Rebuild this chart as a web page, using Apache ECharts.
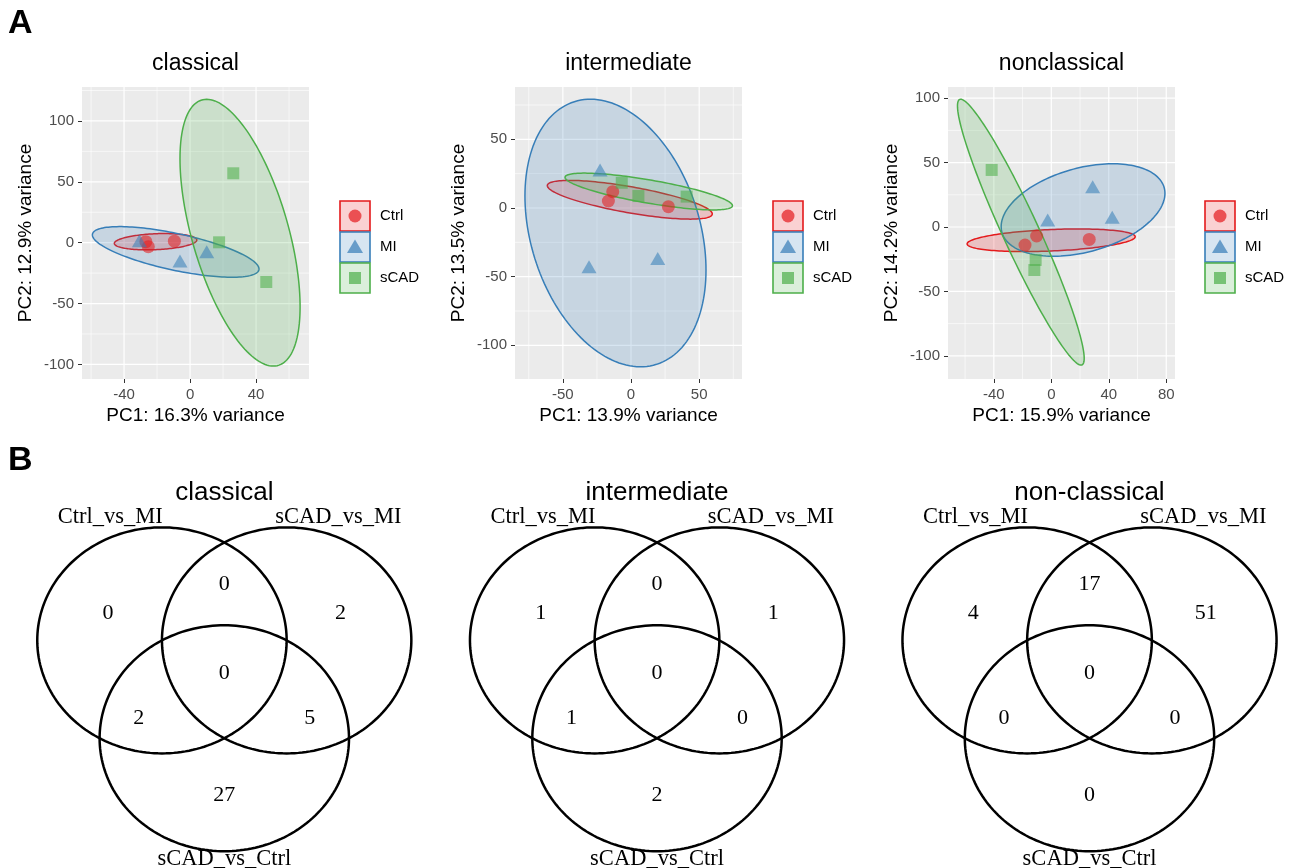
<!DOCTYPE html>
<html>
<head>
<meta charset="utf-8">
<script src="https://cdn.jsdelivr.net/npm/echarts@6.0.0/dist/echarts.min.js"></script>
<style>
html, body { margin: 0; padding: 0; background: #ffffff; }
#chart { width: 1301px; height: 868px; }
</style>
</head>
<body>
<div id="chart"></div>
<script>
// ---------------- data ----------------
const groups = ['Ctrl', 'MI', 'sCAD'];
const pcaTitles = ['classical', 'intermediate', 'nonclassical'];
const pc1Titles = ['PC1: 16.3% variance', 'PC1: 13.9% variance', 'PC1: 15.9% variance'];
const pc2Titles = ['PC2: 12.9% variance', 'PC2: 13.5% variance', 'PC2: 14.2% variance'];

// PCA scores [PC1, PC2]
const classicalCtrl = [[-26.8, 0.8], [-25.3, -3.3], [-9.5, 1.2]];
const classicalMI = [[-30.7, 1.6], [-6.1, -15.0], [10.1, -7.4]];
const classicalSCAD = [[17.6, 0.3], [26.2, 57.0], [46.2, -32.3]];
const intermediateCtrl = [[-13.4, 11.9], [-16.6, 5.1], [27.4, 1.0]];
const intermediateMI = [[-22.7, 27.7], [-30.8, -42.7], [19.6, -36.7]];
const intermediateSCAD = [[-6.8, 18.4], [5.4, 8.7], [40.8, 8.3]];
const nonclassicalCtrl = [[26.4, -9.6], [-10.2, -7.0], [-18.3, -14.0]];
const nonclassicalMI = [[28.8, 31.3], [-2.5, 5.4], [42.4, 7.5]];
const nonclassicalSCAD = [[-41.5, 44.3], [-10.9, -25.6], [-11.8, -33.4]];

// 95% data ellipses per group: [centerPC1, centerPC2, halfWidthPC1, halfHeightPC2, PC2 offset at rightmost point]
const classicalEllipses = [[-20.9, 0.8, 25.0, 6.7, 1.4], [-8.7, -7.6, 50.5, 20.8, -14.0], [30.3, 8.2, 36.4, 109.6, -60.8]];
const intermediateEllipses = [[-0.9, 6.0, 60.5, 14.1, -10.3], [-11.4, -18.2, 66.4, 97.4, -26.9], [13.0, 12.0, 61.4, 13.4, -10.3]];
const nonclassicalEllipses = [[-0.1, -10.3, 58.5, 8.8, 2.8], [22.1, 13.2, 57.0, 35.9, 12.9], [-21.2, -4.0, 44.1, 103.2, -98.0]];

// axis ranges and ticks
const xRanges = [[-65.5, 72.1], [-85.1, 81.4], [-71.9, 86.1]];
const yRanges = [[-112.0, 127.9], [-124.5, 88.1], [-118.0, 108.7]];
const xMajorTicks = [[-40, 0, 40], [-50, 0, 50], [-40, 0, 40, 80]];
const xMinorTicks = [[-60, -20, 20, 60], [-75, -25, 25, 75], [-60, -20, 20, 60]];
const yMajorTicks = [[-100, -50, 0, 50, 100], [-100, -50, 0, 50], [-100, -50, 0, 50, 100]];
const yMinorTicks = [[-75, -25, 25, 75, 125], [-75, -25, 25, 75], [-75, -25, 25, 75]];

// Venn diagrams
const vennTitles = ['classical', 'intermediate', 'non-classical'];
const vennSetNames = ['Ctrl_vs_MI', 'sCAD_vs_MI', 'sCAD_vs_Ctrl'];
// region order: only A, A&B, only B, A&B&C, A&C, B&C, only C
const vennClassicalCounts = [0, 0, 2, 0, 2, 5, 27];
const vennIntermediateCounts = [1, 0, 1, 0, 1, 0, 2];
const vennNonclassicalCounts = [4, 17, 51, 0, 0, 0, 0];

// ---------------- layout / style ----------------
const pcaPoints = [
  [classicalCtrl, classicalMI, classicalSCAD],
  [intermediateCtrl, intermediateMI, intermediateSCAD],
  [nonclassicalCtrl, nonclassicalMI, nonclassicalSCAD]
];
const pcaEllipses = [classicalEllipses, intermediateEllipses, nonclassicalEllipses];
const vennCounts = [vennClassicalCounts, vennIntermediateCounts, vennNonclassicalCounts];

const colors = ['#E41A1C', '#377EB8', '#4DAF4A'];
const fills = ['rgba(228,26,28,0.2)', 'rgba(55,126,184,0.2)', 'rgba(77,175,74,0.2)'];
const pointFills = ['rgba(228,26,28,0.7)', 'rgba(55,126,184,0.7)', 'rgba(77,175,74,0.7)'];
const symbols = ['circle', 'triangle', 'rect'];
const symbolSizes = [13, [15, 13], 12];

const pcaGridLeft = [82, 515, 948];
const pcaGridTop = 87, pcaGridW = 227, pcaGridH = 292;
const legendLeft = [340, 773, 1205];
const legendTop = 201, keySize = 30, keyStep = 31;

// venn geometry in unit-radius coordinates
const vennCircleCenters = [[-0.5, 0.2887], [0.5, 0.2887], [0, -0.5774]];
const vennRegionAnchors = [[-0.932, 0.528], [0, 0.788], [0.932, 0.528], [0, 0], [-0.686, -0.401], [0.686, -0.401], [0, -1.080]];
const vennSetAnchors = [[-0.914, 1.383], [0.914, 1.383], [0, -1.643]];
const vennCenterX = [224.3, 657, 1089.5];
const vennGridTop = 478, vennGridW = 400, vennGridH = 390;
const vennXHalf = 200 / 124.7, vennYHalf = 195 / 113;

const SANS = '"Liberation Sans", Arial, Helvetica, sans-serif';
const SERIF = '"Liberation Serif", "Times New Roman", serif';

// ---------------- option ----------------
const grid = [], xAxis = [], yAxis = [], series = [], graphic = [];

for (let i = 0; i < 3; i++) {
  grid.push({ left: pcaGridLeft[i], top: pcaGridTop, width: pcaGridW, height: pcaGridH,
    show: true, backgroundColor: '#EBEBEB', borderWidth: 0 });
  xAxis.push({
    type: 'value', gridIndex: i, min: xRanges[i][0], max: xRanges[i][1], position: 'bottom',
    axisLine: { show: false, onZero: false }, splitLine: { show: false },
    axisTick: { show: true, length: 4, lineStyle: { color: '#333333', width: 1 }, customValues: xMajorTicks[i] },
    axisLabel: { color: '#4D4D4D', fontSize: 15, fontFamily: SANS, margin: 8, customValues: xMajorTicks[i] },
    name: pc1Titles[i], nameLocation: 'middle', nameGap: 27,
    nameTextStyle: { fontSize: 19, color: '#000', fontFamily: SANS }
  });
  yAxis.push({
    type: 'value', gridIndex: i, min: yRanges[i][0], max: yRanges[i][1], position: 'left',
    axisLine: { show: false, onZero: false }, splitLine: { show: false },
    axisTick: { show: true, length: 4, lineStyle: { color: '#333333', width: 1 }, customValues: yMajorTicks[i] },
    axisLabel: { color: '#4D4D4D', fontSize: 15, fontFamily: SANS, margin: 8, customValues: yMajorTicks[i] },
    name: pc2Titles[i], nameLocation: 'middle', nameGap: 47, nameRotate: 90,
    nameTextStyle: { fontSize: 19, color: '#000', fontFamily: SANS }
  });

  // grid lines
  const gl = [];
  xMinorTicks[i].forEach(v => gl.push([0, v, 0]));
  yMinorTicks[i].forEach(v => gl.push([1, v, 0]));
  xMajorTicks[i].forEach(v => gl.push([0, v, 1]));
  yMajorTicks[i].forEach(v => gl.push([1, v, 1]));
  const xr = xRanges[i], yr = yRanges[i];
  series.push({
    type: 'custom', xAxisIndex: i, yAxisIndex: i, z: 1, silent: true, clip: true,
    data: gl,
    renderItem: function (params, api) {
      const dir = api.value(0), v = api.value(1), major = api.value(2);
      let p1, p2;
      if (dir === 0) { p1 = api.coord([v, yr[0]]); p2 = api.coord([v, yr[1]]); }
      else { p1 = api.coord([xr[0], v]); p2 = api.coord([xr[1], v]); }
      return { type: 'line', shape: { x1: p1[0], y1: p1[1], x2: p2[0], y2: p2[1] },
        style: { stroke: '#FFFFFF', lineWidth: major ? 1.2 : 0.6 } };
    }
  });

  // ellipses
  series.push({
    type: 'custom', xAxisIndex: i, yAxisIndex: i, z: 2, silent: true, clip: true,
    data: pcaEllipses[i].map((e, g) => e.concat([g])),
    renderItem: function (params, api) {
      const cx = api.value(0), cy = api.value(1), W = api.value(2), H = api.value(3), ry = api.value(4), g = api.value(5);
      const b = Math.sqrt(Math.max(H * H - ry * ry, 0));
      const pts = [];
      for (let k = 0; k < 160; k++) {
        const t = 2 * Math.PI * k / 160;
        pts.push(api.coord([cx + W * Math.cos(t), cy + ry * Math.cos(t) + b * Math.sin(t)]));
      }
      return { type: 'polygon', shape: { points: pts },
        style: { fill: fills[g], stroke: colors[g], lineWidth: 1.5 } };
    }
  });

  // points
  for (let g = 0; g < 3; g++) {
    series.push({
      type: 'scatter', name: groups[g], xAxisIndex: i, yAxisIndex: i, z: 3,
      symbol: symbols[g], symbolSize: symbolSizes[g],
      itemStyle: { color: pointFills[g] },
      data: pcaPoints[i][g]
    });
  }

  // panel title
  graphic.push({ type: 'text', x: pcaGridLeft[i] + pcaGridW / 2, y: 64,
    style: { text: pcaTitles[i], font: '23px ' + SANS, fill: '#000',
      textAlign: 'center', textVerticalAlign: 'middle', align: 'center', verticalAlign: 'middle' } });

  // legend
  for (let g = 0; g < 3; g++) {
    const bx = legendLeft[i], by = legendTop + g * keyStep;
    const cx = bx + keySize / 2, cy = by + keySize / 2;
    graphic.push({ type: 'rect', shape: { x: bx, y: by, width: keySize, height: keySize },
      style: { fill: fills[g], stroke: colors[g], lineWidth: 1.6 } });
    if (g === 0) {
      graphic.push({ type: 'circle', shape: { cx: cx, cy: cy, r: 6.5 }, style: { fill: pointFills[g] } });
    } else if (g === 1) {
      graphic.push({ type: 'polygon', shape: { points: [[cx, cy - 7.5], [cx - 8, cy + 6], [cx + 8, cy + 6]] }, style: { fill: pointFills[g] } });
    } else {
      graphic.push({ type: 'rect', shape: { x: cx - 6, y: cy - 6, width: 12, height: 12 }, style: { fill: pointFills[g] } });
    }
    graphic.push({ type: 'text', x: bx + keySize + 10, y: cy,
      style: { text: groups[g], font: '15px ' + SANS, fill: '#000',
        textAlign: 'left', textVerticalAlign: 'middle', align: 'left', verticalAlign: 'middle' } });
  }
}

// Venn panels
for (let i = 0; i < 3; i++) {
  const gi = 3 + i;
  grid.push({ left: vennCenterX[i] - vennGridW / 2, top: vennGridTop, width: vennGridW, height: vennGridH, show: false });
  xAxis.push({ type: 'value', gridIndex: gi, min: -vennXHalf, max: vennXHalf, show: false });
  yAxis.push({ type: 'value', gridIndex: gi, min: -vennYHalf, max: vennYHalf, show: false });

  series.push({
    type: 'custom', xAxisIndex: gi, yAxisIndex: gi, z: 2, silent: true,
    data: vennCircleCenters,
    renderItem: function (params, api) {
      const cx = api.value(0), cy = api.value(1);
      const pts = [];
      for (let k = 0; k < 200; k++) {
        const t = 2 * Math.PI * k / 200;
        pts.push(api.coord([cx + Math.cos(t), cy + Math.sin(t)]));
      }
      return { type: 'polygon', shape: { points: pts },
        style: { fill: 'none', stroke: '#000000', lineWidth: 2.5 } };
    }
  });

  const counts = vennCounts[i];
  series.push({
    type: 'custom', xAxisIndex: gi, yAxisIndex: gi, z: 3, silent: true,
    data: vennRegionAnchors.map((a, r) => [a[0], a[1], counts[r]]),
    renderItem: function (params, api) {
      const p = api.coord([api.value(0), api.value(1)]);
      return { type: 'text', x: p[0], y: p[1],
        style: { text: String(api.value(2)), font: '22px ' + SERIF, fill: '#000',
          textAlign: 'center', textVerticalAlign: 'middle', align: 'center', verticalAlign: 'middle' } };
    }
  });

  series.push({
    type: 'custom', xAxisIndex: gi, yAxisIndex: gi, z: 3, silent: true,
    data: vennSetAnchors.map((a, s) => [a[0], a[1], s]),
    renderItem: function (params, api) {
      const p = api.coord([api.value(0), api.value(1)]);
      return { type: 'text', x: p[0], y: p[1],
        style: { text: vennSetNames[api.value(2)], font: '22.5px ' + SERIF, fill: '#000',
          textAlign: 'center', textVerticalAlign: 'middle', align: 'center', verticalAlign: 'middle' } };
    }
  });

  graphic.push({ type: 'text', x: vennCenterX[i], y: 493,
    style: { text: vennTitles[i], font: '26px ' + SANS, fill: '#000',
      textAlign: 'center', textVerticalAlign: 'middle', align: 'center', verticalAlign: 'middle' } });
}

// panel letters
graphic.push({ type: 'text', x: 8, y: 24,
  style: { text: 'A', font: 'bold 34px ' + SANS, fill: '#000', textAlign: 'left', textVerticalAlign: 'middle', align: 'left', verticalAlign: 'middle' } });
graphic.push({ type: 'text', x: 8, y: 461,
  style: { text: 'B', font: 'bold 34px ' + SANS, fill: '#000', textAlign: 'left', textVerticalAlign: 'middle', align: 'left', verticalAlign: 'middle' } });

const chart = echarts.init(document.getElementById('chart'), null, { renderer: 'canvas' });
chart.setOption({
  animation: false,
  backgroundColor: '#FFFFFF',
  textStyle: { fontFamily: SANS },
  grid: grid, xAxis: xAxis, yAxis: yAxis, series: series, graphic: graphic
});
</script>
</body>
</html>
